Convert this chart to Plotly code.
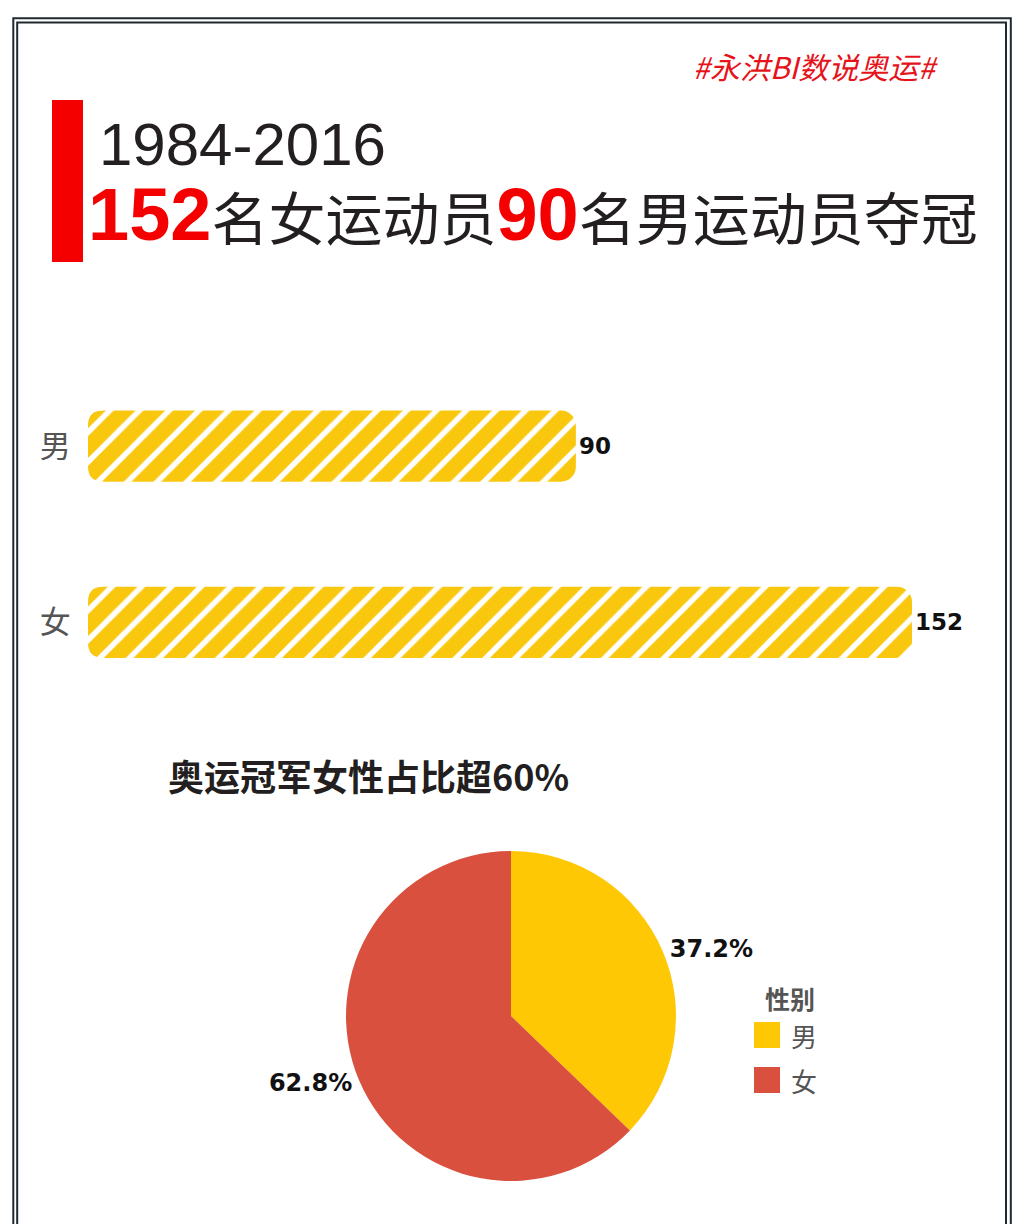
import plotly.graph_objects as go

# ---- data ----
genders = ["男", "女"]
counts = [90, 152]
year_span = "1984-2016"
hashtag = "#永洪BI数说奥运#"
pie_title = "奥运冠军女性占比超60%"
legend_title = "性别"

bar_color = "#F9C80E"
pie_colors = ["#FFC805", "#D9503F"]
dark = "#231f20"
red = "#F50000"

W, H = 1024, 1224


def px(x):
    return x / W


def py(y):
    return 1 - y / H


fig = go.Figure()

fig.add_trace(go.Bar(
    y=genders, x=counts, orientation="h",
    marker=dict(
        color=bar_color,
        cornerradius=15,
        pattern=dict(shape="/", fgcolor=bar_color, bgcolor="white",
                     size=21, solidity=0.74, fillmode="replace"),
        line=dict(width=0),
    ),
    text=[str(v) for v in counts], textposition="outside",
    textfont=dict(family="DejaVu Sans", size=23, color="#111", weight="bold"),
    cliponaxis=False, showlegend=False, hoverinfo="skip",
))

fig.add_trace(go.Pie(
    labels=genders, values=counts, sort=False, direction="clockwise", rotation=0,
    marker=dict(colors=pie_colors, line=dict(width=0)),
    textposition="outside", texttemplate="%{percent:.1%}",
    textfont=dict(family="DejaVu Sans", size=24, color="#111", weight="bold"),
    domain=dict(x=[px(511 - 165), px(511 + 165)], y=[py(1016 + 165), py(1016 - 165)]),
    showlegend=False, hoverinfo="skip",
))

scale = (912 - 88) / counts[1]
fig.update_layout(
    width=W, height=H, margin=dict(l=0, r=0, t=0, b=0),
    paper_bgcolor="white", plot_bgcolor="white",
    bargap=1 - 71 / 176,
    xaxis=dict(domain=[px(88), px(1000)], range=[0, (1000 - 88) / scale], visible=False),
    yaxis=dict(domain=[py(710.5), py(358)], categoryorder="array", categoryarray=["女", "男"],
               showgrid=False, zeroline=False, showline=False,
               ticks="outside", ticklen=10, tickcolor="rgba(0,0,0,0)",
               tickfont=dict(family="Noto Sans CJK SC", size=31, color="#555")),
    font=dict(family="Noto Sans CJK SC"),
)

shapes = []
# double frame
shapes.append(dict(type="rect", xref="paper", yref="paper", x0=px(13.3), x1=px(1010.8),
                   y0=py(1240), y1=py(18.3), line=dict(color="#1f2a2e", width=2)))
shapes.append(dict(type="rect", xref="paper", yref="paper", x0=px(17.2), x1=px(1006),
                   y0=py(1240), y1=py(22.5), line=dict(color="#1f2a2e", width=2)))
# red accent bar
shapes.append(dict(type="rect", xref="paper", yref="paper", x0=px(52), x1=px(83),
                   y0=py(262), y1=py(100), fillcolor=red, line=dict(width=0)))

# round the left ends of the bars (white corner masks)
r, hh = 15, 35.5
for g in genders:
    for s in (1, -1):
        path = (f"M-3,{s*(hh+2)} L{r},{s*(hh+2)} L{r},{s*hh} "
                f"Q0,{s*hh} 0,{s*(hh-r)} L-3,{s*(hh-r)} Z")
        shapes.append(dict(type="path", xref="x", yref="y", xsizemode="pixel", ysizemode="pixel",
                           xanchor=0, yanchor=g, path=path, fillcolor="white",
                           line=dict(width=0), layer="above"))

annotations = []
annotations.append(dict(text=hashtag, x=px(691), y=py(66), xref="paper", yref="paper",
                        xanchor="left", yanchor="middle", showarrow=False,
                        font=dict(family="Noto Sans CJK SC", size=30, color="#E5131A", style="italic")))
annotations.append(dict(text=year_span, x=px(97), y=py(144), xref="paper", yref="paper",
                        xanchor="left", yanchor="middle", showarrow=False,
                        font=dict(family="Liberation Sans", size=60, color=dark)))
num_style = f"color:{red};font-family:Liberation Sans;font-size:74px;font-weight:bold"
main_line = (f"<span style='{num_style}'>{counts[1]}</span>名女运动员"
             f"<span style='{num_style}'>{counts[0]}</span>名男运动员夺冠")
annotations.append(dict(text=main_line, x=px(86), y=py(214), xref="paper", yref="paper",
                        xanchor="left", yanchor="middle", showarrow=False,
                        font=dict(family="Noto Sans CJK SC", size=57, color=dark)))
annotations.append(dict(text=pie_title, x=px(166), y=py(775), xref="paper", yref="paper",
                        xanchor="left", yanchor="middle", showarrow=False,
                        font=dict(family="Noto Sans CJK SC", size=36, color=dark, weight="bold")))

# legend
annotations.append(dict(text=legend_title, x=px(763), y=py(998), xref="paper", yref="paper",
                        xanchor="left", yanchor="middle", showarrow=False,
                        font=dict(family="Noto Sans CJK SC", size=25, color="#555", weight="bold")))
for i, (g, c) in enumerate(zip(genders, pie_colors)):
    cy = 1035 + i * 45
    shapes.append(dict(type="rect", xref="paper", yref="paper", x0=px(754), x1=px(780),
                       y0=py(cy + 13), y1=py(cy - 13), fillcolor=c, line=dict(width=0)))
    annotations.append(dict(text=g, x=px(789), y=py(cy), xref="paper", yref="paper",
                            xanchor="left", yanchor="middle", showarrow=False,
                            font=dict(family="Noto Sans CJK SC", size=26, color="#555")))

fig.update_layout(shapes=shapes, annotations=annotations)
fig.write_html("out.html")
